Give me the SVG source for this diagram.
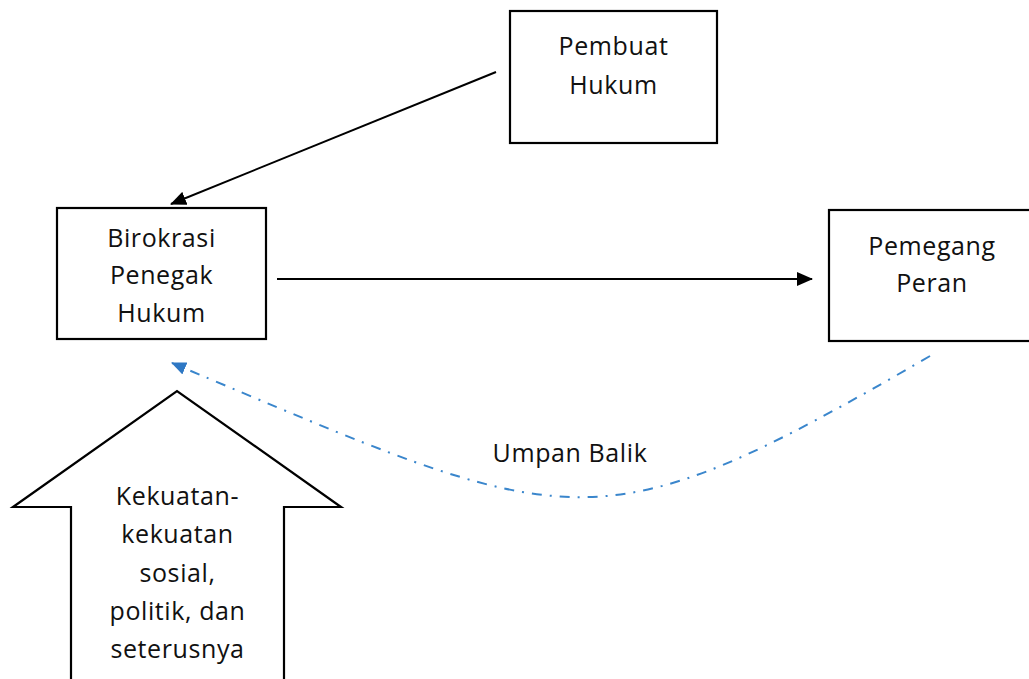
<svg xmlns="http://www.w3.org/2000/svg" width="1029" height="679" viewBox="0 0 1029 679">
<defs>
<style>
.box{fill:#fff;stroke:#000;stroke-width:2.2}
.t{font-family:"Open Sans","Liberation Sans",sans-serif;font-size:25px;letter-spacing:0.6px;fill:#111;text-anchor:middle}
.ln{stroke:#000;stroke-width:2;fill:none}
.fb{stroke:#3a86cc;stroke-width:2;fill:none;stroke-dasharray:10 8 2 8}
</style>
<marker id="ah" markerWidth="16" markerHeight="14" refX="15" refY="7" orient="auto" markerUnits="userSpaceOnUse" viewBox="0 0 16 14">
<path d="M0,0 L16,7 L0,14 z" fill="#000"/>
</marker>
<marker id="ahb" markerWidth="15" markerHeight="13" refX="14" refY="6.5" orient="auto" markerUnits="userSpaceOnUse" viewBox="0 0 15 13">
<path d="M0,0 L15,6.5 L0,13 z" fill="#2f78c4"/>
</marker>
</defs>
<rect width="1029" height="679" fill="#fff"/>
<g id="connectors">
<line class="ln" x1="496" y1="72" x2="171" y2="204" marker-end="url(#ah)"/>
<line class="ln" x1="277" y1="279" x2="812" y2="279" marker-end="url(#ah)"/>
<path class="fb" d="M930,356 C590,553 576,533 172,363" marker-end="url(#ahb)"/>
<text class="t" x="570" y="462">Umpan Balik</text>
</g>
<g id="pembuat">
<rect class="box" x="510" y="11" width="207" height="132"/>
<text class="t" x="613.5" y="55">Pembuat</text>
<text class="t" x="613.5" y="94">Hukum</text>
</g>
<g id="birokrasi">
<rect class="box" x="57" y="208" width="209" height="131"/>
<text class="t" x="161.5" y="247">Birokrasi</text>
<text class="t" x="161.5" y="284">Penegak</text>
<text class="t" x="161.5" y="322">Hukum</text>
</g>
<g id="pemegang">
<rect class="box" x="829" y="210" width="210" height="131"/>
<text class="t" x="932" y="255">Pemegang</text>
<text class="t" x="932" y="292">Peran</text>
</g>
<g id="kekuatan">
<path class="box" d="M71,690 L71,507 L13,507 L177,391 L341,507 L284,507 L284,690"/>
<text class="t" x="177.5" y="505">Kekuatan-</text>
<text class="t" x="177.5" y="543">kekuatan</text>
<text class="t" x="177.5" y="582">sosial,</text>
<text class="t" x="177.5" y="620">politik, dan</text>
<text class="t" x="177.5" y="658">seterusnya</text>
</g>
</svg>
